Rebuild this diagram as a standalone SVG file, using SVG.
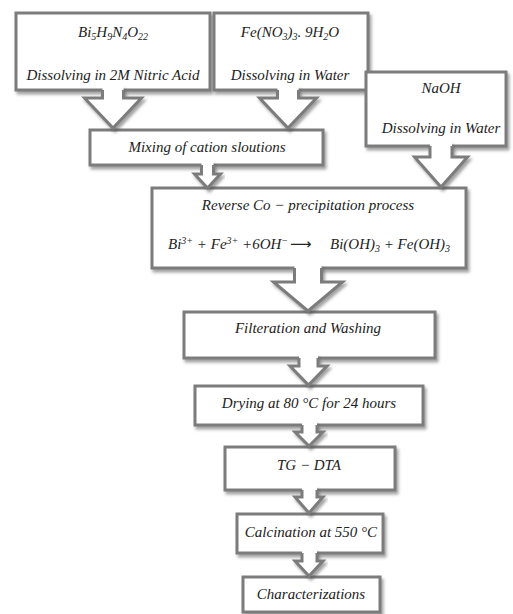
<svg xmlns="http://www.w3.org/2000/svg" width="513" height="614" viewBox="0 0 513 614">
<defs>
<filter id="sh" x="-10%" y="-10%" width="125%" height="140%">
<feDropShadow dx="2" dy="3" stdDeviation="1.8" flood-color="#555" flood-opacity="0.55"/>
</filter>
</defs>
<style>
.box{fill:#fff;stroke:#7c7c7c;stroke-width:3;filter:url(#sh)}
.af{fill:#fff;stroke:none}
.ao{fill:none;stroke:#7c7c7c;stroke-width:3;stroke-linejoin:miter}
.arr{filter:url(#sh)}
text{font-family:'Liberation Serif','DejaVu Serif',serif;font-style:italic;font-size:15px;fill:#222;text-anchor:middle}
text.st{text-anchor:start}
.s{font-size:10px}
text.la{font-family:'DejaVu Sans',sans-serif;font-style:normal;font-size:15px;text-anchor:start}
</style>
<rect width="513" height="614" fill="#fff"/>

<g id="n1"><rect class="box" x="16" y="13" width="194" height="77"/>
<text x="113" y="37">Bi<tspan class="s" dy="3">5</tspan><tspan dy="-3">H</tspan><tspan class="s" dy="3">9</tspan><tspan dy="-3">N</tspan><tspan class="s" dy="3">4</tspan><tspan dy="-3">O</tspan><tspan class="s" dy="3">22</tspan></text>
<text x="113" y="80">Dissolving in 2M Nitric Acid</text></g>

<g id="n2"><rect class="box" x="214" y="13" width="154" height="77"/>
<text x="290" y="37">Fe(NO<tspan class="s" dy="3">3</tspan><tspan dy="-3">)</tspan><tspan class="s" dy="3">3</tspan><tspan dy="-3">. 9H</tspan><tspan class="s" dy="3">2</tspan><tspan dy="-3">O</tspan></text>
<text x="290" y="80">Dissolving in Water</text></g>

<g id="n3"><rect class="box" x="366" y="72" width="140" height="74"/>
<text x="441" y="93">NaOH</text>
<text x="441" y="133">Dissolving in Water</text></g>

<g id="n4"><rect class="box" x="90" y="130" width="233" height="35"/>
<text x="207" y="152">Mixing of cation sloutions</text></g>

<g id="n5"><rect class="box" x="152" y="188" width="314" height="80"/>
<text x="308" y="210">Reverse Co − precipitation process</text>
<text class="st" x="168" y="249">Bi<tspan class="s" dy="-5">3+</tspan><tspan dy="5"> + Fe</tspan><tspan class="s" dy="-5">3+</tspan><tspan dy="5"> +6OH</tspan><tspan class="s" dy="-5">−</tspan></text>
<text class="la" x="290" y="249">⟶</text>
<text class="st" x="330" y="249">Bi(OH)<tspan class="s" dy="3">3</tspan><tspan dy="-3"> + Fe(OH)</tspan><tspan class="s" dy="3">3</tspan></text></g>

<g id="n6"><rect class="box" x="184" y="312" width="251" height="46"/>
<text x="308" y="333">Filteration and Washing</text></g>

<g id="n7"><rect class="box" x="195" y="386" width="228" height="39"/>
<text x="309" y="408">Drying at 80 °C for 24 hours</text></g>

<g id="n8"><rect class="box" x="225" y="447" width="170" height="43"/>
<text x="309" y="470">TG − DTA</text></g>

<g id="n9"><rect class="box" x="237" y="514" width="146" height="39"/>
<text x="311" y="537">Calcination at 550 °C</text></g>

<g id="n10"><rect class="box" x="243" y="577" width="137" height="35"/>
<text x="311" y="599">Characterizations</text></g>

<g id="connectors">
<g class="arr">
<polygon class="af" points="102.5,86 123.5,86 123.5,98 141.5,98 113,128 84.5,98 102.5,98"/>
<polyline class="ao" points="102.5,90 102.5,98 84.5,98 113,128 141.5,98 123.5,98 123.5,90"/>
</g>
<g class="arr">
<polygon class="af" points="277.5,86 298.5,86 298.5,98 316.5,98 288,128 259.5,98 277.5,98"/>
<polyline class="ao" points="277.5,90 277.5,98 259.5,98 288,128 316.5,98 298.5,98 298.5,90"/>
</g>
<g class="arr">
<polygon class="af" points="430,142 452,142 452,157 467.5,157 441,187 414.5,157 430,157"/>
<polyline class="ao" points="430,146 430,157 414.5,157 441,187 467.5,157 452,157 452,146"/>
</g>
<g class="arr">
<polygon class="af" points="201.5,161 213.5,161 213.5,174 220.5,174 207.5,188 194.5,174 201.5,174"/>
<polyline class="ao" points="201.5,165 201.5,174 194.5,174 207.5,188 220.5,174 213.5,174 213.5,165"/>
</g>
<g class="arr">
<polygon class="af" points="294.5,264 321.5,264 321.5,282 342.5,282 308,311 273.5,282 294.5,282"/>
<polyline class="ao" points="294.5,268 294.5,282 273.5,282 308,311 342.5,282 321.5,282 321.5,268"/>
</g>
<g class="arr">
<polygon class="af" points="299,354 318,354 318,366 327,366 308.5,385 290,366 299,366"/>
<polyline class="ao" points="299,358 299,366 290,366 308.5,385 327,366 318,366 318,358"/>
</g>
<g class="arr">
<polygon class="af" points="302,421 317,421 317,432 323,432 309,446 295,432 302,432"/>
<polyline class="ao" points="302,425 302,432 295,432 309,446 323,432 317,432 317,425"/>
</g>
<g class="arr">
<polygon class="af" points="302,486 317,486 317,497 323,497 309,513 295,497 302,497"/>
<polyline class="ao" points="302,490 302,497 295,497 309,513 323,497 317,497 317,490"/>
</g>
<g class="arr">
<polygon class="af" points="302,549 317,549 317,561 323,561 309,576 295,561 302,561"/>
<polyline class="ao" points="302,553 302,561 295,561 309,576 323,561 317,561 317,553"/>
</g>
</g>
</svg>
